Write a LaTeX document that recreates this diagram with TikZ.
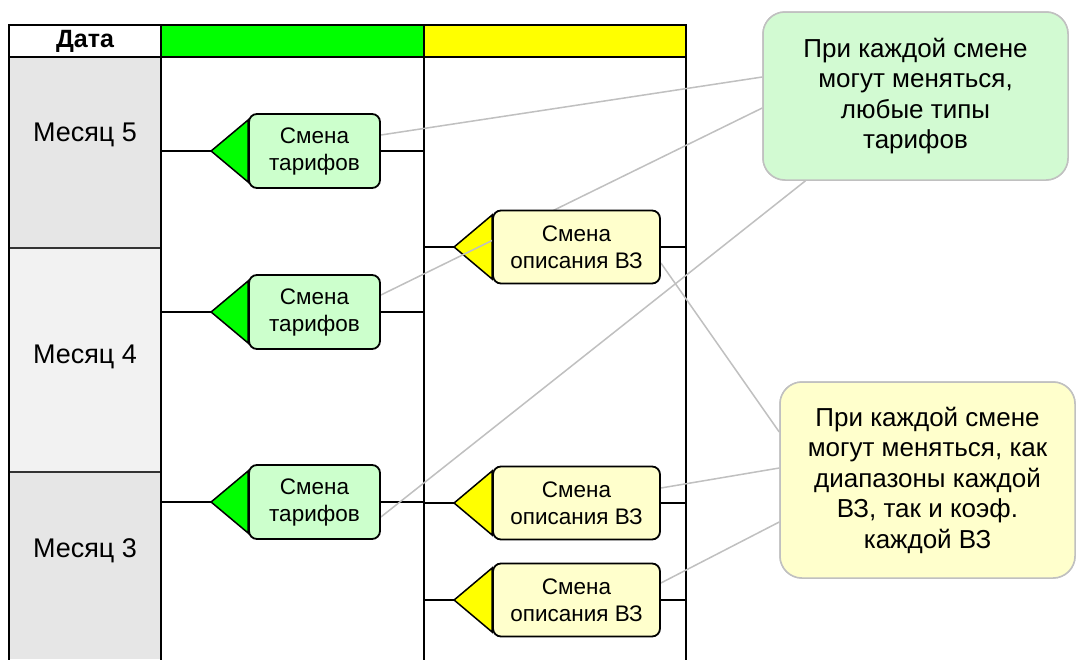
\documentclass[tikz,border=0pt]{standalone}
\usepackage{fontspec}
\setmainfont{Liberation Sans}
\usetikzlibrary{calc}
\definecolor{gbright}{HTML}{00FF00}
\definecolor{glight}{HTML}{CCFFCC}
\definecolor{ybright}{HTML}{FFFF00}
\definecolor{ylight}{HTML}{FFFFCC}
\definecolor{cellA}{HTML}{E6E6E6}
\definecolor{cellB}{HTML}{F2F2F2}
\definecolor{conn}{HTML}{C0C0C0}
\definecolor{cgreen}{HTML}{D2FAD2}
\begin{document}
\begin{tikzpicture}[x=1pt,y=-1pt,
  tbl/.style={line width=2pt, line cap=rect},
  rowline/.style={line width=2pt},
  monthtxt/.style={font=\fontsize{27}{30}\selectfont, inner sep=0pt},
  evbox/.style={draw=black, line width=1.8pt, rounded corners=8pt, align=center,
     font=\fontsize{22.5}{27}\selectfont, inner sep=0pt},
  gbox/.style={evbox, fill=glight, minimum width=131pt, minimum height=74pt},
  ybox/.style={evbox, fill=ylight, minimum width=167pt, minimum height=73pt},
  gtri/.style={draw=black, line width=1.5pt, fill=gbright, line join=miter},
  ytri/.style={draw=black, line width=1.5pt, fill=ybright, line join=miter},
  callout/.style={draw=conn, line width=1.5pt, rounded corners=22pt, align=center,
     font=\fontsize{26}{30.5}\selectfont, inner sep=0pt},
  link/.style={draw=conn, line width=1.5pt}
]
\useasboundingbox (0,0) rectangle (1076,659);
\fill[white] (0,0) rectangle (1076,659);
% header and date cells
\fill[gbright] (161,25) rectangle (424,57);
\fill[ybright] (424,25) rectangle (686,57);
\fill[cellA] (9,57) rectangle (161,248);
\fill[cellB] (9,248) rectangle (161,472);
\fill[cellA] (9,472) rectangle (161,659);
\draw[black!80, line width=1.2pt] (9,248) -- (161,248);
\draw[black!80, line width=1.2pt] (9,472) -- (161,472);
% table frame
\draw[tbl] (9,659) -- (9,25) -- (686,25) -- (686,659);
\draw[tbl] (9,57) -- (686,57);
\draw[tbl] (161,25) -- (161,659);
\draw[tbl] (424,25) -- (424,659);
\coordinate (cA) at (161,0);
\coordinate (cB) at (424,0);
\coordinate (cC) at (686,0);
% texts of date column
\node[font=\bfseries\fontsize{25}{28}\selectfont, inner sep=0pt] (hd) at (85,41) {Дата};
\node[monthtxt] (m5) at (85,135) {Месяц 5};
\node[monthtxt] (m4) at (85,357) {Месяц 4};
\node[monthtxt] (m3) at (85,551) {Месяц 3};
% event boxes (placed first for anchors)
\path (314.5,151) node[gbox, draw=none, fill=none] (g1) {\phantom{Смена}}
      (314.5,312) node[gbox, draw=none, fill=none] (g2) {\phantom{Смена}}
      (314.5,502) node[gbox, draw=none, fill=none] (g3) {\phantom{Смена}}
      (576.5,247) node[ybox, draw=none, fill=none] (y1) {\phantom{Смена}}
      (576.5,503) node[ybox, draw=none, fill=none] (y3) {\phantom{Смена}}
      (576.5,600) node[ybox, draw=none, fill=none] (y4) {\phantom{Смена}};
% triangles tips
\foreach \b/\w/\h in {g1/37/31, g2/37/31, g3/37/31, y1/38/32, y3/38/32, y4/38/32}{
  \coordinate (\b tip) at ($(\b.west)+(-\w,0)$);
  \coordinate (\b top) at ($(\b.west)+(0,-\h)$);
  \coordinate (\b bot) at ($(\b.west)+(0,\h)$);
}
% row lines
\foreach \b in {g1,g2,g3}{
  \draw[rowline] (\b tip -| cA) -- (\b tip);
  \draw[rowline] (\b.east) -- (\b.east -| cB);
}
\foreach \b in {y1,y3,y4}{
  \draw[rowline] (\b tip -| cB) -- (\b tip);
  \draw[rowline] (\b.east) -- (\b.east -| cC);
}
% triangles
\foreach \b in {g1,g2,g3}{ \draw[gtri] (\b top) -- (\b tip) -- (\b bot) -- cycle; }
\foreach \b in {y1,y3,y4}{ \draw[ytri] (\b top) -- (\b tip) -- (\b bot) -- cycle; }
% callouts
\node[callout, fill=cgreen, minimum width=305pt, minimum height=168pt] (c1) at (915.5,96)
  {При каждой смене\\могут меняться,\\любые типы\\тарифов};
\node[callout, fill=ylight, minimum width=295pt, minimum height=196pt] (c2) at (927.5,480)
  {При каждой смене\\могут меняться, как\\диапазоны каждой\\ВЗ, так и коэф.\\каждой ВЗ};
% connectors
\draw[link] ($(g1.east)+(0,-16)$) -- ($(c1.west)+(0,-19)$);
\draw[link] ($(g2.east)+(0,-17)$) -- ($(c1.west)+(0,12)$);
\draw[link] ($(g3.east)+(0,15)$) -- ($(c1.south)+(-110,0)$);
\draw[link] ($(y1.east)+(0,16)$) -- ($(c2.west)+(0,-48)$);
\draw[link] ($(y3.east)+(0,-15)$) -- ($(c2.west)+(0,-12)$);
\draw[link] ($(y4.east)+(0,-17)$) -- ($(c2.west)+(0,42)$);
% event boxes drawn
\node[gbox] (g1b) at (g1) {Смена\\тарифов};
\node[gbox] (g2b) at (g2) {Смена\\тарифов};
\node[gbox] (g3b) at (g3) {Смена\\тарифов};
\node[ybox] (y1b) at (y1) {Смена\\описания ВЗ};
\node[ybox] (y3b) at (y3) {Смена\\описания ВЗ};
\node[ybox] (y4b) at (y4) {Смена\\описания ВЗ};
% redraw callouts on top of connectors' ends
\node[callout, fill=cgreen, minimum width=305pt, minimum height=168pt] (c1b) at (c1)
  {При каждой смене\\могут меняться,\\любые типы\\тарифов};
\node[callout, fill=ylight, minimum width=295pt, minimum height=196pt] (c2b) at (c2)
  {При каждой смене\\могут меняться, как\\диапазоны каждой\\ВЗ, так и коэф.\\каждой ВЗ};
\end{tikzpicture}
\end{document}
